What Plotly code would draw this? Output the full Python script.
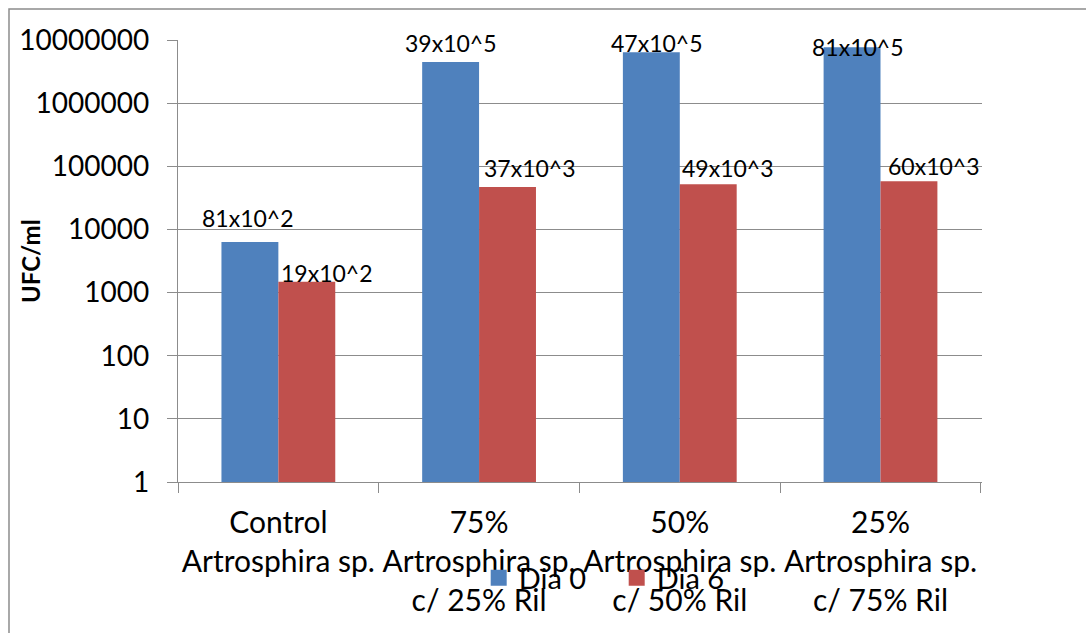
import math
import plotly.graph_objects as go

categories = [
    "Control<br>Artrosphira sp.",
    "75%<br>Artrosphira sp.<br>c/ 25% Ril",
    "50%<br>Artrosphira sp.<br>c/ 50% Ril",
    "25%<br>Artrosphira sp.<br>c/ 75% Ril",
]
dia0_values = [6300, 4470000, 6400000, 7700000]
dia6_values = [1480, 47000, 52000, 58000]
dia0_labels = ["81x10^2", "39x10^5", "47x10^5", "81x10^5"]
dia6_labels = ["19x10^2", "37x10^3", "49x10^3", "60x10^3"]
y_ticks = [1, 10, 100, 1000, 10000, 100000, 1000000, 10000000]

# label style offsets (pixels) relative to bar top centre
dia0_dx = [-2, 0, 6, 6]
dia0_dy = [24, 19, 9, 0]
dia6_dx = [20, 22, 20, 25]
dia6_dy = [9, 19, 16, 15]

FONT = "Lato"
BLUE = "#4F81BD"
RED = "#C0504D"
GRID = "#8C8C8C"

fig = go.Figure()
fig.add_trace(go.Bar(name="Dia 0", x=categories, y=dia0_values, showlegend=False,
                     marker=dict(color=BLUE, line=dict(width=0))))
fig.add_trace(go.Bar(name="Dia 6", x=categories, y=dia6_values, showlegend=False,
                     marker=dict(color=RED, line=dict(width=0))))
# legend keys (square swatches)
fig.add_trace(go.Scatter(name="Dia 0", x=[None], y=[None], mode="markers",
                         marker=dict(symbol="square", size=17, color=BLUE)))
fig.add_trace(go.Scatter(name="Dia 6", x=[None], y=[None], mode="markers",
                         marker=dict(symbol="square", size=17, color=RED)))

half = 28.5
ann = []
for i, c in enumerate(categories):
    ann.append(dict(x=c, y=math.log10(dia0_values[i]), text=dia0_labels[i], showarrow=False,
                    xshift=-half + dia0_dx[i], yshift=dia0_dy[i], yanchor="middle",
                    font=dict(family=FONT, size=23, color="black")))
    ann.append(dict(x=c, y=math.log10(dia6_values[i]), text=dia6_labels[i], showarrow=False,
                    xshift=half + dia6_dx[i], yshift=dia6_dy[i], yanchor="middle",
                    font=dict(family=FONT, size=23, color="black")))
ann.append(dict(xref="paper", yref="paper", x=-0.184, y=0.5, xanchor="center", yanchor="middle",
                text="<b>UFC/ml</b>", textangle=-90,
                showarrow=False, font=dict(family=FONT, size=24, color="black")))

fig.update_layout(
    width=1086, height=633,
    margin=dict(l=178, r=104, t=40, b=151, autoexpand=False),
    paper_bgcolor="white", plot_bgcolor="white",
    barmode="group", bargap=0.433, bargroupgap=0,
    font=dict(family=FONT, size=26, color="black"),
    annotations=ann,
    legend=dict(orientation="h", x=0.374, y=-0.217, xanchor="left", yanchor="middle",
                font=dict(family=FONT, size=29), bgcolor="rgba(0,0,0,0)",
                entrywidth=93, entrywidthmode="pixels"),
    shapes=[dict(type="rect", xref="paper", yref="paper",
                 x0=-0.2102, x1=1.2, y0=-0.5, y1=1.0701,
                 line=dict(color=GRID, width=1.5), layer="below")],
    xaxis=dict(showgrid=False, showline=True, linecolor=GRID, linewidth=1.3,
               ticks="outside", tickson="boundaries", ticklen=10, tickcolor=GRID, tickwidth=1.3,
               tickangle=0, automargin=False,
               tickfont=dict(family=FONT, size=30), ticklabelstandoff=14),
    yaxis=dict(type="log", range=[0, 7], tickvals=y_ticks, ticktext=[str(v) for v in y_ticks],
               showgrid=True, gridcolor=GRID, gridwidth=1.3, showline=True, linecolor=GRID, linewidth=1.3,
               ticks="outside", ticklen=10, tickcolor=GRID, tickwidth=1.3, automargin=False,
               tickfont=dict(family=FONT, size=28), ticklabelstandoff=12, zeroline=False),
)

fig.write_html("out.html")
